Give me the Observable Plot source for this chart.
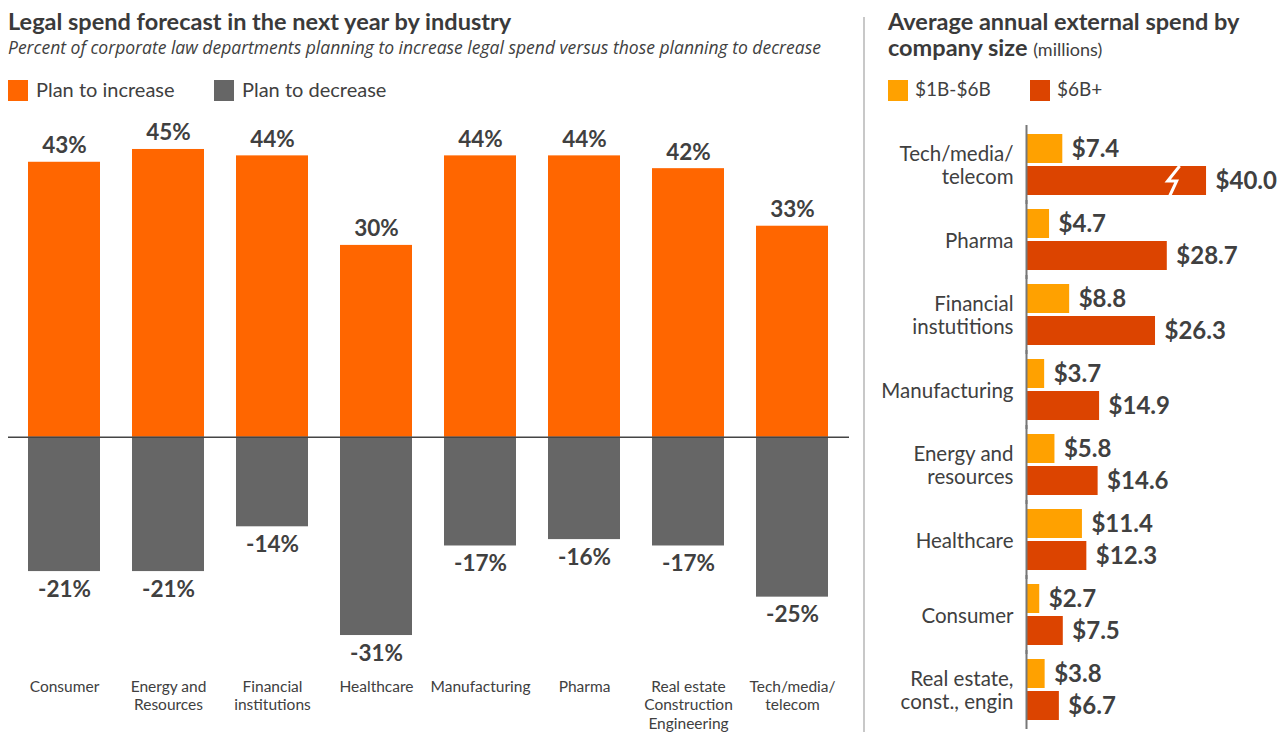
<!DOCTYPE html>
<html><head><meta charset="utf-8">
<script src="https://cdn.jsdelivr.net/npm/d3@7"></script>
<script src="https://cdn.jsdelivr.net/npm/@observablehq/plot@0.6"></script>
<style>
body{margin:0;background:#fff;font-family:Lato,sans-serif;color:#404040;}
#page{position:relative;width:1286px;height:732px;overflow:hidden;background:#fff;}
.abs{position:absolute;white-space:nowrap;line-height:1.2;}
.sw{position:absolute;width:20px;height:21px;}
</style></head><body>
<div id="page">
  <div class="abs" style="left:8px;top:7px;font-size:23.5px;font-weight:700;color:#3a3a3a;">Legal spend forecast in the next year by industry</div>
  <div class="abs" style="left:8px;top:37px;font-size:17.5px;font-style:italic;font-family:'Open Sans',sans-serif;line-height:20px;">Percent of corporate law departments planning to increase legal spend versus those planning to decrease</div>
  <div id="legL"></div>
  <div id="left" class="abs" style="left:0;top:110px"></div>
  <div class="abs" style="left:863px;top:17px;width:2px;height:715px;background:#c8c8c8"></div>
  <div class="abs" style="left:888px;top:9px;font-size:23.5px;font-weight:700;line-height:24px;color:#3a3a3a;">Average annual external spend by</div>
  <div class="abs" style="left:888px;top:35px;font-size:23.5px;font-weight:700;line-height:24px;color:#3a3a3a;">company size <span style="font-weight:400;font-size:18px;color:#404040;">(millions)</span></div>
  <div id="legR"></div>
  <div id="right" class="abs" style="left:866px;top:110px"></div>
</div>
<script>
// ---- Left chart data ----
const industries = ["Consumer","Energy and\nResources","Financial\ninstitutions","Healthcare","Manufacturing","Pharma","Real estate\nConstruction\nEngineering","Tech/media/\ntelecom"];
const planIncrease = [43,45,44,30,44,44,42,33];
const planDecrease = [-21,-21,-14,-31,-17,-16,-17,-25];
const leftSeries = ["Plan to increase","Plan to decrease"];
const leftColors = ["#ff6600","#666666"];

// ---- Right chart data ----
const sizeCategories = ["Tech/media/\ntelecom","Pharma","Financial\ninstutitions","Manufacturing","Energy and\nresources","Healthcare","Consumer","Real estate,\nconst., engin"];
const spendMid = [7.4,4.7,8.8,3.7,5.8,11.4,2.7,3.8];
const spendLarge = [40.0,28.7,26.3,14.9,14.6,12.3,7.5,6.7];
const sizeSeries = ["$1B-$6B","$6B+"];
const sizeColors = ["#ffa100","#dc4400"];
const axisBreakAt = 36.7;   // bars longer than this are drawn broken
const breakMarkAt = 30;     // where the break symbol sits

const leftRows = industries.flatMap((ind,i)=>[
  {industry:ind, series:leftSeries[0], value:planIncrease[i]},
  {industry:ind, series:leftSeries[1], value:planDecrease[i]}
]);
const rightRows = sizeCategories.flatMap((c,i)=>[
  {cat:c, series:sizeSeries[0], value:spendMid[i]},
  {cat:c, series:sizeSeries[1], value:spendLarge[i]}
]);

function legend(el, labels, colors, xs, textOffsets, fs, top){
  labels.forEach((l,i)=>{
    const s=document.createElement("div"); s.className="sw";
    s.style.left=xs[i]+"px"; s.style.top="80px"; s.style.background=colors[i];
    el.appendChild(s);
    const t=document.createElement("div"); t.className="abs";
    t.style.left=(xs[i]+textOffsets)+"px"; t.style.top=top+"px"; t.style.fontSize=fs+"px";
    t.textContent=l; el.appendChild(t);
  });
}
legend(document.getElementById("legL"), leftSeries, leftColors, [8,214], 28, 20, 77);
legend(document.getElementById("legR"), sizeSeries, sizeColors, [888,1030], 27, 19, 78);

const fmtPct = d => d.value + "%";
const left = Plot.plot({
  width:860, height:622, marginLeft:10, marginRight:14, marginTop:7, marginBottom:65,
  style:{fontFamily:"Lato, sans-serif", background:"transparent", color:"#404040"},
  x:{domain:industries, paddingInner:0.31, paddingOuter:0.15, axis:null},
  y:{domain:[-36,50], axis:null},
  color:{domain:leftSeries, range:leftColors},
  marks:[
    Plot.barY(leftRows, {x:"industry", y:"value", fill:"series"}),
    Plot.ruleY([0], {stroke:"#444", strokeWidth:1.5, insetLeft:-2, insetRight:-3}),
    Plot.text(leftRows.filter(d=>d.value>0), {x:"industry", y:"value", text:fmtPct, lineAnchor:"bottom", dy:-9, fontSize:22.5, fontWeight:700, fill:"#404040"}),
    Plot.text(leftRows.filter(d=>d.value<0), {x:"industry", y:"value", text:fmtPct, lineAnchor:"top", dy:9, fontSize:22.5, fontWeight:700, fill:"#404040"}),
    Plot.text(industries, {x:d=>d, text:d=>d, frameAnchor:"bottom", lineAnchor:"top", dy:11, fontSize:15.5, lineHeight:1.2, fill:"#404040"})
  ]
});
document.getElementById("left").appendChild(left);

const bolt = {draw(ctx, size){
  const s = Math.sqrt(size/Math.PI)/15;
  ctx.moveTo(6*s,-15*s); ctx.lineTo(-6*s,0); ctx.lineTo(3*s,0); ctx.lineTo(-4*s,15*s);
}};
const shown = d => Math.min(d.value, axisBreakAt);
const right = Plot.plot({
  width:420, height:622, marginLeft:160, marginRight:0, marginTop:15, marginBottom:3,
  style:{fontFamily:"Lato, sans-serif", background:"transparent", color:"#404040"},
  fy:{domain:sizeCategories, paddingInner:0.19, paddingOuter:0.106, axis:null},
  y:{domain:sizeSeries, paddingInner:0.094, paddingOuter:0, axis:null},
  x:{domain:[0,53], axis:null},
  color:{domain:sizeSeries, range:sizeColors},
  marks:[
    Plot.barX(rightRows, {fy:"cat", y:"series", x:shown, fill:"series"}),
    Plot.dot(rightRows.filter(d=>d.value>axisBreakAt), {fy:"cat", y:"series", x:()=>breakMarkAt, symbol:bolt, r:15, fill:"none", stroke:"white", strokeWidth:3}),
    Plot.text(rightRows, {fy:"cat", y:"series", x:shown, text:d=>"$"+d.value.toFixed(1), textAnchor:"start", dx:9, fontSize:24, fontWeight:700, fill:"#404040"}),
    Plot.text(sizeCategories, {fy:d=>d, text:d=>d, frameAnchor:"left", textAnchor:"end", dx:-13, fontSize:20.5, lineHeight:1.15, fill:"#404040"}),
    Plot.ruleX([0], {stroke:"#777", strokeWidth:2, insetTop:-9, insetBottom:-9})
  ]
});
document.getElementById("right").appendChild(right);
</script>
</body></html>
